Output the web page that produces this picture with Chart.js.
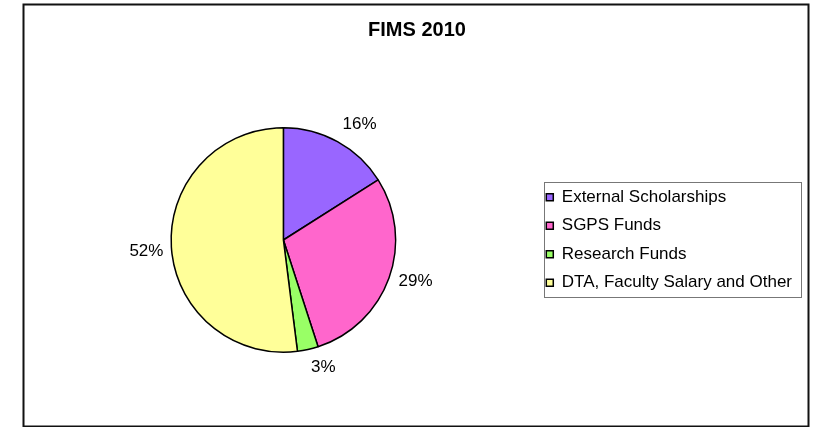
<!DOCTYPE html>
<html>
<head>
<meta charset="utf-8">
<title>FIMS 2010</title>
<script src="https://cdn.jsdelivr.net/npm/chart.js@4.4.1/dist/chart.umd.min.js"></script>
<style>
    html, body { margin: 0; padding: 0; background: #fff; }
    #wrap { position: relative; width: 825px; height: 427px; }
</style>
</head>
<body>
<div id="wrap"><canvas id="pieChart"></canvas></div>
<script>
    /* --- DATA --- */
    const categories = ['External Scholarships', 'SGPS Funds', 'Research Funds', 'DTA, Faculty Salary and Other'];
    const shares = [16, 29, 3, 52];
    const chartTitle = 'FIMS 2010';

    /* --- STYLE --- */
    Chart.defaults.font.family = "'Liberation Sans', Arial, sans-serif";
    Chart.defaults.color = '#000';
    const sliceColors = ['#9966ff', '#ff66cc', '#99ff66', '#ffff99'];

    // outer frame of the chart object
    const framePlugin = {
        id: 'frame',
        beforeDraw(chart) {
            const ctx = chart.ctx;
            ctx.save();
            ctx.fillStyle = '#fff';
            ctx.fillRect(0, 0, chart.width, chart.height);
            ctx.strokeStyle = '#111';
            ctx.lineWidth = 2;
            ctx.strokeRect(23.5, 4.5, 785, 422);
            ctx.restore();
        }
    };

    // grey box round the legend items
    const legendBox = {
        id: 'legendBox',
        afterDraw(chart) {
            const lg = chart.legend;
            if (!lg || !lg.legendHitBoxes.length) return;
            const boxes = lg.legendHitBoxes;
            const first = boxes[0], last = boxes[boxes.length - 1];
            const ctx = chart.ctx;
            ctx.save();
            ctx.strokeStyle = '#777';
            ctx.lineWidth = 1;
            const x0 = Math.round(first.left) - 1.5;
            const y0 = Math.round(first.top) - 6.5;
            const x1 = Math.round(lg.right) - 0.5;
            const y1 = Math.round(last.top + last.height) + 6.5;
            ctx.strokeRect(x0, y0, x1 - x0, y1 - y0);
            ctx.restore();
        }
    };

    // percentage labels outside the slices
    const outsideLabels = {
        id: 'outsideLabels',
        afterDatasetsDraw(chart, args, opts) {
            const ctx = chart.ctx;
            const meta = chart.getDatasetMeta(0);
            const data = chart.data.datasets[0].data;
            const total = data.reduce((a, b) => a + b, 0);
            ctx.save();
            ctx.font = opts.font;
            ctx.fillStyle = '#000';
            ctx.textAlign = 'center';
            ctx.textBaseline = 'middle';
            meta.data.forEach((arc, i) => {
                const p = arc.getProps(['x', 'y', 'startAngle', 'endAngle', 'outerRadius'], true);
                const mid = (p.startAngle + p.endAngle) / 2;
                const ux = Math.cos(mid), uy = Math.sin(mid);
                const text = Math.round(data[i] / total * 100) + '%';
                const w = ctx.measureText(text).width;
                const nudge = opts.nudge[i] || [0, 0];
                const cx = p.x + (p.outerRadius + opts.gap) * ux + w / 2 * ux + nudge[0];
                const cy = p.y + (p.outerRadius + opts.gap) * uy + 7 * uy + nudge[1];
                ctx.fillText(text, cx, cy);
            });
            ctx.restore();
        }
    };

    new Chart(document.getElementById('pieChart'), {
        type: 'pie',
        data: {
            labels: categories,
            datasets: [{
                data: shares,
                backgroundColor: sliceColors,
                borderColor: '#000',
                borderWidth: 1.5
            }]
        },
        options: {
            responsive: true,
            maintainAspectRatio: false,
            animation: false,
            events: [],
            layout: { padding: { top: 8, left: 32, right: 23, bottom: 74 } },
            plugins: {
                title: {
                    display: true,
                    text: chartTitle,
                    font: { size: 20, weight: 'bold' },
                    padding: { top: 10, bottom: 85 }
                },
                legend: {
                    position: 'right',
                    // legend runs beside the title too, so an empty legend title
                    // pushes the items down to the middle of the pie
                    title: { display: true, text: ' ', font: { size: 10 }, padding: { top: 0, bottom: 107 } },
                    labels: {
                        boxWidth: 7,
                        boxHeight: 7,
                        padding: 11.5,
                        font: { size: 17 }
                    }
                },
                tooltip: { enabled: false },
                outsideLabels: {
                    font: "17px 'Liberation Sans', Arial, sans-serif",
                    gap: 8,
                    nudge: [[10, -4], [3, -2], [11, 3], [0, 3]]
                }
            }
        },
        plugins: [framePlugin, legendBox, outsideLabels]
    });
</script>
</body>
</html>
